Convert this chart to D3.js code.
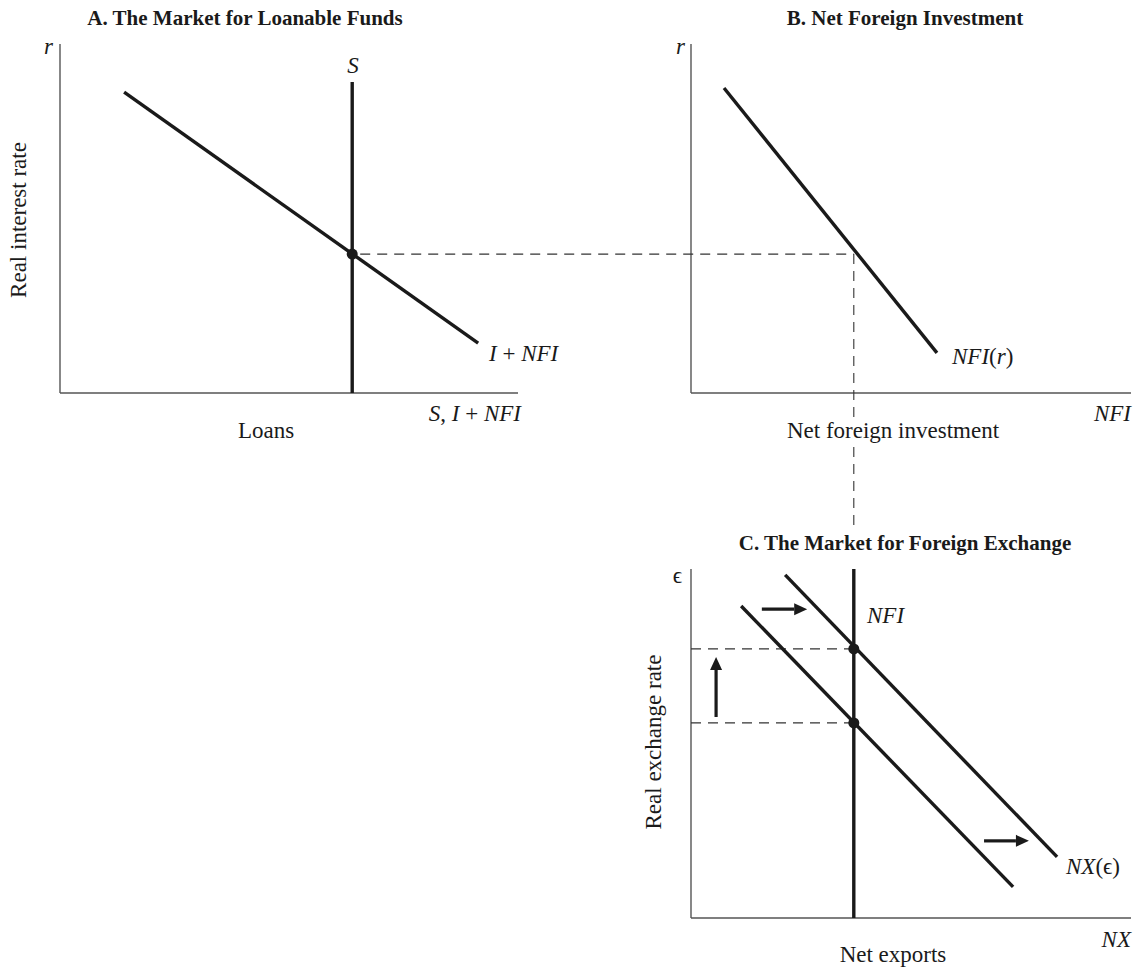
<!DOCTYPE html>
<html><head><meta charset="utf-8">
<script src="https://cdn.jsdelivr.net/npm/d3@7"></script>
<style>
body{margin:0;background:#fff;}
text{font-family:"Liberation Serif","Times New Roman",serif;fill:#1a1a1a;}
.title{font-weight:bold;font-size:21px;}
.lab{font-size:23px;}
</style></head>
<body>
<svg id="c" width="1137" height="969"></svg>
<script>
// ---- Data (in abstract units, 0-100 per axis) ----
const panelTitles = ["A. The Market for Loanable Funds","B. Net Foreign Investment","C. The Market for Foreign Exchange"];
const axisNames = ["Real interest rate","Net foreign investment","Real exchange rate","Loans","Net exports"];
// Panel A: investment + NFI demand and vertical saving supply
const demandA = [[14.0,86.2],[91.3,14.3]];
const supplyA = [[63.8,0],[63.8,89.1]];
const rEq = 39.8;
// Panel B: NFI(r)
const nfiCurve = [[7.5,87.4],[55.9,11.5]];
const nfiEq = 37.0;
// Panel C: NX curves (old and new), NFI vertical
const nxOld = [[11.4,89.4],[73.2,8.9]];
const nxNew = [[21.4,98.3],[83.2,17.5]];
const eOld = 55.9, eNew = 77.1;
const arrowUp = [[5.7,57.6],[5.7,74.8]];
const arrowR1 = [[16.1,88.5],[26.4,88.5]];
const arrowR2 = [[66.6,22.1],[76.8,22.1]];

const svg = d3.select("#c");
const ink = "#1a1a1a", axc = "#555";
const xA = d3.scaleLinear().domain([0,100]).range([60,518]);
const yA = d3.scaleLinear().domain([0,100]).range([393,44]);
const xB = d3.scaleLinear().domain([0,100]).range([691,1131]);
const yB = d3.scaleLinear().domain([0,100]).range([393,44]);
const xC = d3.scaleLinear().domain([0,100]).range([691,1131]);
const yC = d3.scaleLinear().domain([0,100]).range([918,569]);

function axes(x,y){
  svg.append("line").attr("x1",x(0)).attr("x2",x(0)).attr("y1",y(100)).attr("y2",y(0)).attr("stroke",axc).attr("stroke-width",1.4);
  svg.append("line").attr("x1",x(0)).attr("x2",x(100)).attr("y1",y(0)).attr("y2",y(0)).attr("stroke",axc).attr("stroke-width",1.4);
}
const line = (x,y)=>d3.line().x(d=>x(d[0])).y(d=>y(d[1]));
function curve(data,x,y,w){
  svg.append("path").attr("d",line(x,y)(data)).attr("stroke",ink).attr("stroke-width",w||3.4).attr("fill","none");
}
function dashed(x1,y1,x2,y2){
  svg.append("line").attr("x1",x1).attr("y1",y1).attr("x2",x2).attr("y2",y2)
    .attr("stroke","#333").attr("stroke-width",1.1).attr("stroke-dasharray","10,7");
}
function dot(px,py){ svg.append("circle").attr("cx",px).attr("cy",py).attr("r",5.5).attr("fill",ink); }
function arrow(d,x,y){
  const [a,b]=d; const x1=x(a[0]),y1=y(a[1]),x2=x(b[0]),y2=y(b[1]);
  const ang=Math.atan2(y2-y1,x2-x1), L=13, W=6;
  const bx=x2-L*Math.cos(ang), by=y2-L*Math.sin(ang);
  svg.append("line").attr("x1",x1).attr("y1",y1).attr("x2",bx).attr("y2",by).attr("stroke",ink).attr("stroke-width",3.2);
  const px=-Math.sin(ang), py=Math.cos(ang);
  svg.append("path").attr("d",`M${x2},${y2}L${bx+W*px},${by+W*py}L${bx-W*px},${by-W*py}Z`).attr("fill",ink);
}
function txt(s,x,y,cls,anchor){ return svg.append("text").attr("x",x).attr("y",y).attr("class",cls).attr("text-anchor",anchor||"start").text(s); }
function itx(parts,x,y,anchor){
  const t=svg.append("text").attr("x",x).attr("y",y).attr("class","lab").attr("text-anchor",anchor||"start");
  parts.forEach(p=>t.append("tspan").attr("font-style",p[1]?"italic":"normal").text(p[0]));
  return t;
}

// Panel A
axes(xA,yA);
curve(supplyA,xA,yA,3.4);
curve(demandA,xA,yA,3.4);
// Panel B
axes(xB,yB);
curve(nfiCurve,xB,yB,3.4);
// dashed connectors
dashed(xA(supplyA[0][0])+8,yA(rEq),xB(nfiEq),yB(rEq));
dashed(xB(nfiEq),yB(rEq),xB(nfiEq),417);
dashed(xB(nfiEq),447,xB(nfiEq),530);
dot(xA(supplyA[0][0]),yA(rEq));
// Panel C
axes(xC,yC);
dashed(xC(0),yC(eNew),xC(nfiEq),yC(eNew));
dashed(xC(0),yC(eOld),xC(nfiEq),yC(eOld));
svg.append("line").attr("x1",xC(nfiEq)).attr("x2",xC(nfiEq)).attr("y1",yC(100)).attr("y2",yC(0)).attr("stroke",ink).attr("stroke-width",3.4);
curve(nxOld,xC,yC,3.4);
curve(nxNew,xC,yC,3.4);
dot(xC(nfiEq),yC(eNew)); dot(xC(nfiEq),yC(eOld));
arrow(arrowUp,xC,yC); arrow(arrowR1,xC,yC); arrow(arrowR2,xC,yC);

// Titles
txt(panelTitles[0],245,25,"title","middle");
txt(panelTitles[1],905,25,"title","middle");
txt(panelTitles[2],905,550,"title","middle");
// Axis variable labels
itx([["r",1]],53,54,"end");
itx([["r",1]],685,54,"end");
txt("\u03F5",682,583,"lab","end");
itx([["S",1]],353,73,"middle");
itx([["I",1],[" + "],["NFI",1]],489,361);
itx([["S",1],[", "],["I",1],[" + "],["NFI",1]],521,421,"end");
itx([["NFI",1],["("],["r",1],[")"]],952,364);
itx([["NFI",1]],1131,421,"end");
itx([["NFI",1]],867,623);
itx([["NX",1],["(\u03F5)"]],1066,874);
itx([["NX",1]],1131,947,"end");
// Axis titles
txt(axisNames[3],266,438,"lab","middle");
txt(axisNames[1],893,438,"lab","middle");
txt(axisNames[4],893,962,"lab","middle");
txt(axisNames[0],26,220,"lab","middle").attr("transform","rotate(-90,26,220)");
txt(axisNames[2],661,742,"lab","middle").attr("transform","rotate(-90,661,742)");
</script>
</body></html>
